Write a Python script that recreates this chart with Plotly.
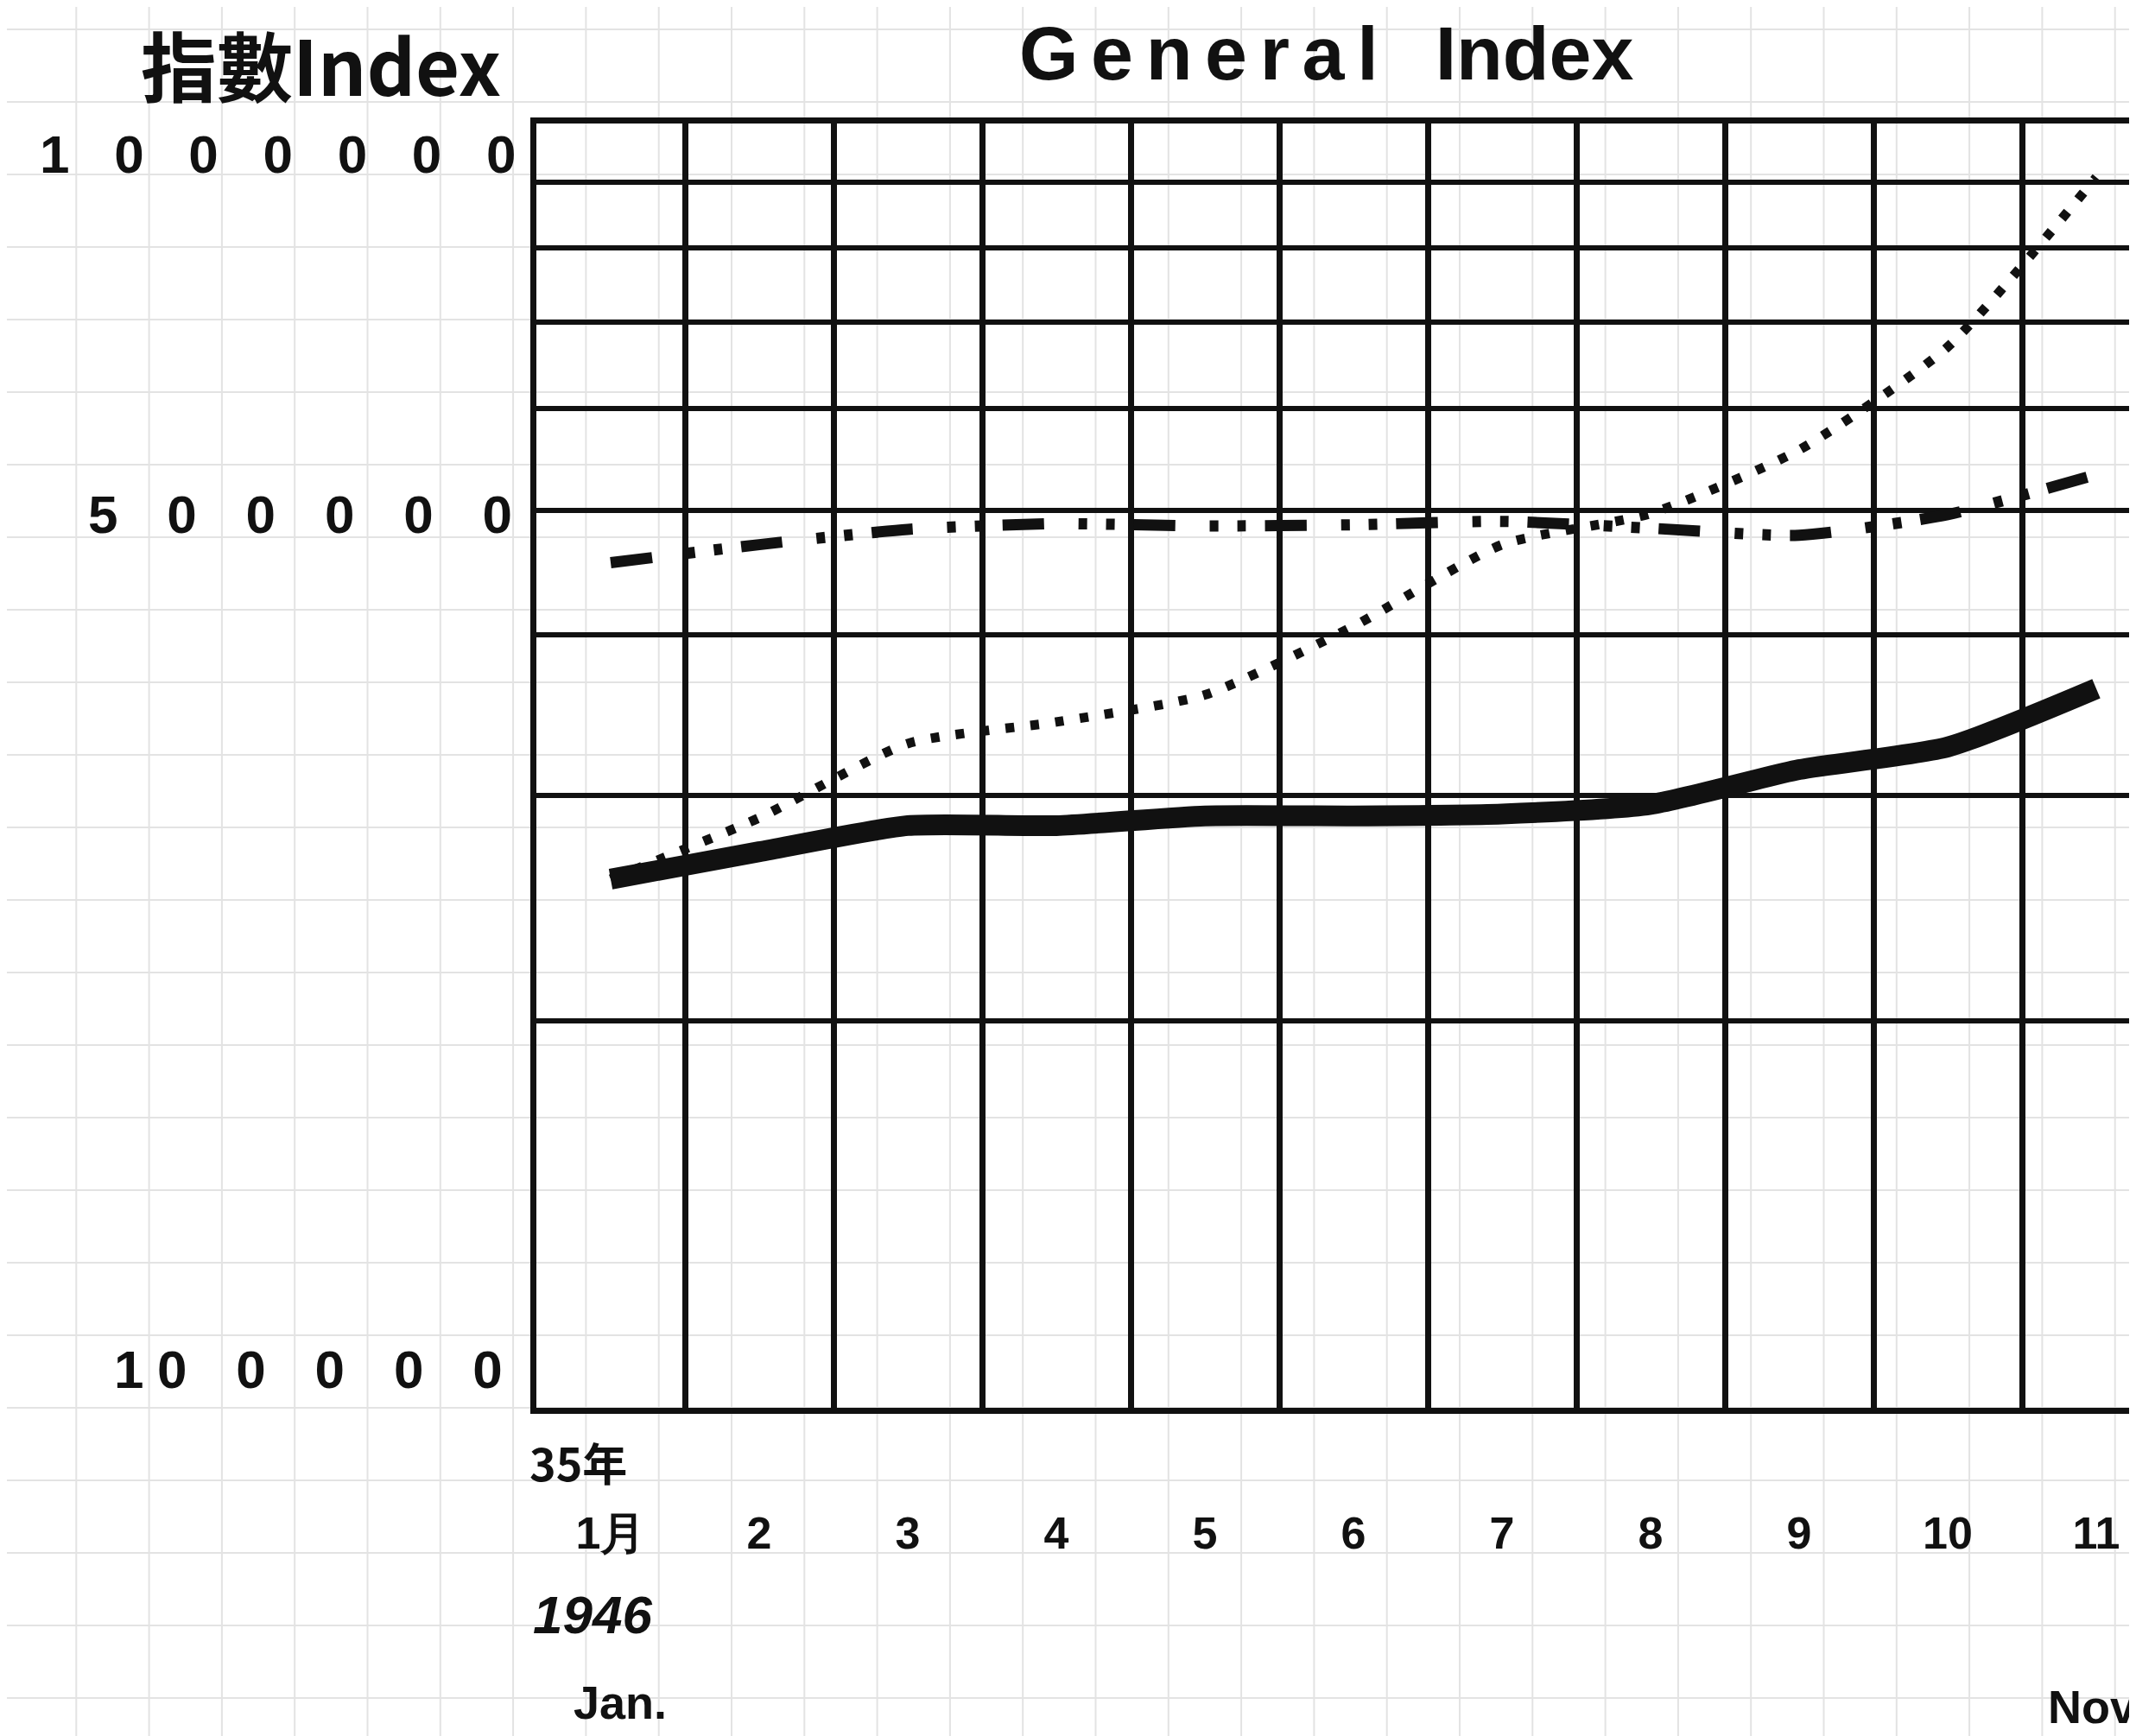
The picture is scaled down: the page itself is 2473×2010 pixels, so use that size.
import math
import plotly.graph_objects as go

# ---------------- data ----------------
months = [1, 2, 3, 4, 5, 6, 7, 8, 9, 10, 11]
month_labels = ["1月", "2", "3", "4", "5", "6", "7", "8", "9", "10", "11"]

solid_index = [258000, 271000, 284000, 284000, 289000, 289000,
               290000, 295000, 314000, 327000, 363000]
dotted_index = [258000, 288000, 329000, 342000, 359000, 406000,
                470000, 497000, 557000, 670000, 908000]
dashdot_index = [455000, 470000, 483000, 488000, 486000, 487000,
                 490000, 484000, 478000, 496000, 533000]

y_grid_vals = [100000, 200000, 300000, 400000, 500000,
               600000, 700000, 800000, 900000, 1000000]
y_label_vals = [1000000, 500000, 100000]
G1 = "\u2002\u2005\u200a"
G2 = "\u2002\u2005\u2006"
G3 = "\u2002\u2005\u2006"
y_label_text = [G1.join("1000000"), G2.join("500000"),
                "1\u2005" + "0" + G3 + G3.join("0000")]
y_label_shift = [-35, -5, 45]
y_label_xshift = [-22, -26, -37]

# ---------------- figure geometry ----------------
W, H = 2473, 2010
ML, MR, MT, MB = 613, 0, 135, 388
PW, PH = W - ML - MR, H - MT - MB
col_px = 172.0
x_range = [0.5, 0.5 + PW / col_px]

INK = "#111111"
HAND = "Liberation Sans"

fig = go.Figure()

fig.add_trace(go.Scatter(
    x=months, y=dashdot_index, mode="lines",
    line=dict(color=INK, width=13, dash="48px,40px,10px,22px,10px,22px",
              shape="spline", smoothing=0.6),
    hoverinfo="skip", showlegend=False))

fig.add_trace(go.Scatter(
    x=months, y=dotted_index, mode="lines",
    line=dict(color=INK, width=11, dash="10px,19px",
              shape="spline", smoothing=0.6),
    hoverinfo="skip", showlegend=False))

fig.add_trace(go.Scatter(
    x=months, y=solid_index, mode="lines",
    line=dict(color=INK, width=24, shape="spline", smoothing=0.6),
    hoverinfo="skip", showlegend=False))

# ---------------- graph-paper background (decoration) ----------------
shapes = []
paper_step = 84.3
px = -4.0
while px < W:
    xp = (px - ML) / PW
    shapes.append(dict(type="line", xref="paper", yref="paper",
                       x0=xp, x1=xp, y0=(MT + PH - H) / PH, y1=(MT + PH) / PH,
                       line=dict(color="#e3e3e3", width=2), layer="below"))
    px += paper_step
py = 26.0
while py < H:
    yp = (MT + PH - py) / PH
    shapes.append(dict(type="line", xref="paper", yref="paper",
                       x0=-ML / PW, x1=(W - ML) / PW, y0=yp, y1=yp,
                       line=dict(color="#e3e3e3", width=2), layer="below"))
    py += 84.0

# ---------------- annotations ----------------
ann = []
for v, t, s, xs in zip(y_label_vals, y_label_text, y_label_shift, y_label_xshift):
    ann.append(dict(x=0, xref="paper", y=math.log10(v), yref="y",
                    xanchor="right", yanchor="middle", xshift=xs, yshift=s,
                    text="<b>" + t + "</b>", showarrow=False,
                    font=dict(family=HAND, size=62, color=INK)))

title_text = "\u2006".join("General") + "\u2002\u2005" + "Index"
ann.append(dict(x=0.492, y=1.0545, xref="paper", yref="paper",
                text="<b>" + title_text + "</b>", showarrow=False,
                xanchor="center", yanchor="middle",
                font=dict(family=HAND, size=88, color=INK)))
ann.append(dict(x=-0.134, y=1.0475, xref="paper", yref="paper",
                text="<b>指數Index</b>", showarrow=False,
                xanchor="center", yanchor="middle",
                font=dict(family="Noto Sans CJK TC", size=88, color=INK)))
ann.append(dict(x=0.026, y=-0.042, xref="paper", yref="paper",
                text="<b>35年</b>", showarrow=False,
                xanchor="center", yanchor="middle",
                font=dict(family="Noto Sans CJK JP", size=52, color=INK)))
ann.append(dict(x=0.035, y=-0.161, xref="paper", yref="paper",
                text="<b><i>1946</i></b>", showarrow=False,
                xanchor="center", yanchor="middle",
                font=dict(family=HAND, size=62, color=INK)))
ann.append(dict(x=0.052, y=-0.229, xref="paper", yref="paper",
                text="<b>Jan.</b>", showarrow=False,
                xanchor="center", yanchor="middle",
                font=dict(family=HAND, size=54, color=INK)))
ann.append(dict(x=0.940, y=-0.233, xref="paper", yref="paper",
                text="<b>Nov.</b>", showarrow=False,
                xanchor="left", yanchor="middle",
                font=dict(family=HAND, size=54, color=INK)))

fig.update_layout(
    width=W, height=H,
    margin=dict(l=ML, r=MR, t=MT, b=MB, pad=0),
    paper_bgcolor="white", plot_bgcolor="rgba(0,0,0,0)",
    shapes=shapes, annotations=ann, showlegend=False,
)

fig.update_xaxes(
    range=x_range, tickmode="array", tickvals=months,
    ticktext=["<b>" + m + "</b>" for m in month_labels],
    showgrid=False, zeroline=False,
    showline=True, linecolor=INK, linewidth=7, mirror=True,
    ticks="", ticklabelstandoff=94,
    tickfont=dict(family=HAND, size=52, color=INK),
    minor=dict(tick0=0.5, dtick=1, showgrid=True, gridcolor=INK, gridwidth=7,
               ticks=""),
)

fig.update_yaxes(
    type="log", range=[5, 6],
    tickmode="array", tickvals=y_grid_vals, ticktext=[""] * len(y_grid_vals),
    showgrid=True, gridcolor=INK, gridwidth=6, zeroline=False,
    showline=True, linecolor=INK, linewidth=7, ticks="",
)

fig.write_html("out.html")
